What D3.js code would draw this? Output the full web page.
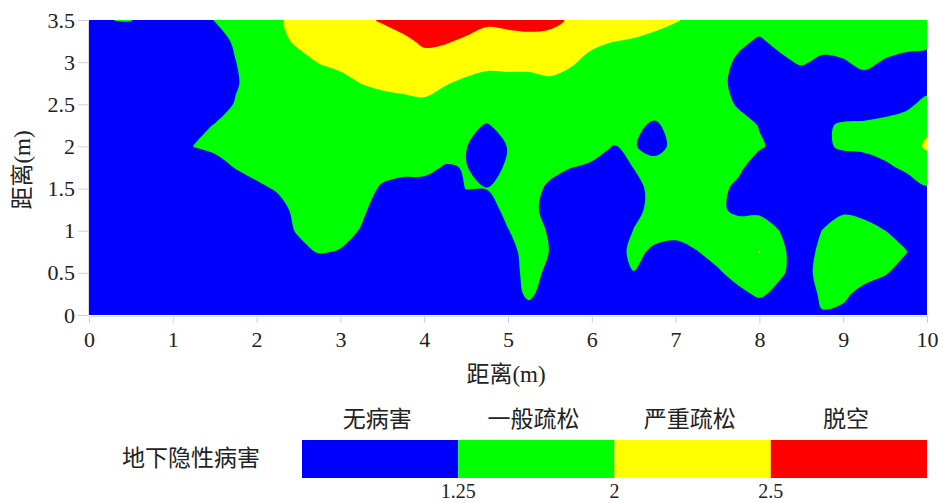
<!DOCTYPE html>
<html>
<head>
<meta charset="utf-8">
<script src="https://cdn.jsdelivr.net/npm/d3@7/dist/d3.min.js"></script>
<style>
  body { margin: 0; background: #ffffff; }
  svg { display: block; }
</style>
</head>
<body>
<svg id="chart" width="942" height="503"></svg>
<script>
// Survey grid: 0.25 m spacing along the line (0–10 m) and over the section height (3.5 m → 0 m)
const gridStep = 0.25;
const xPositions = d3.range(0, 10 + 1e-9, gridStep);   // 41 columns
const yPositions = d3.range(3.5, -1e-9, -gridStep);    // 15 rows, top row first

// Disease index measured at each grid node, one array per row (top to bottom)
const rowY350 = [0.6, 1.24, 1.29, 0.6, 0.68, 0.98, 1.27, 1.47, 1.69, 1.93, 2.16, 2.28, 2.36, 2.43, 2.53, 2.64, 2.83, 2.79, 2.69, 2.58, 2.61, 2.64, 2.59, 2.46, 2.32, 2.23, 2.18, 2.12, 2.03, 1.89, 1.77, 1.51, 1.47, 1.53, 1.61, 1.59, 1.60, 1.625, 1.62, 1.58, 1.56];
const rowY325 = [0.6, 0.6, 0.6, 0.6, 0.6, 0.62, 1.0, 1.34, 1.625, 1.875, 2.08, 2.16, 2.21, 2.31, 2.36, 2.43, 2.56, 2.54, 2.44, 2.34, 2.37, 2.39, 2.39, 2.25, 2.09, 2.01, 1.97, 1.90, 1.79, 1.72, 1.52, 1.36, 1.19, 1.39, 1.52, 1.44, 1.49, 1.56, 1.49, 1.42, 1.39];
const rowY300 = [0.6, 0.6, 0.6, 0.6, 0.6, 0.6, 0.86, 1.24, 1.54, 1.75, 1.86, 2.02, 2.10, 2.16, 2.23, 2.29, 2.37, 2.29, 2.19, 2.11, 2.125, 2.13, 2.16, 2.05, 1.88, 1.79, 1.74, 1.71, 1.64, 1.60, 1.46, 1.16, 0.875, 1.14, 1.31, 1.15, 1.2, 1.375, 1.2, 1.1, 1.04];
const rowY275 = [0.6, 0.6, 0.6, 0.6, 0.6, 0.6, 0.83, 1.2, 1.48, 1.63, 1.71, 1.78, 1.875, 2.01, 2.09, 2.12, 2.16, 2.03, 1.92, 1.845, 1.855, 1.855, 1.92, 1.84, 1.72, 1.67, 1.625, 1.61, 1.625, 1.58, 1.41, 1.085, 0.71, 0.725, 0.935, 0.755, 0.875, 1.04, 0.875, 0.8, 1.07];
const rowY250 = [0.6, 0.6, 0.6, 0.6, 0.6, 0.6, 0.98, 1.29, 1.5, 1.625, 1.625, 1.65, 1.70, 1.77, 1.83, 1.886, 1.92, 1.81, 1.67, 1.55, 1.6, 1.68, 1.71, 1.65, 1.625, 1.625, 1.51, 1.48, 1.53, 1.6, 1.45, 1.2, 0.95, 0.725, 0.6, 0.8, 0.86, 0.965, 1.04, 1.155, 1.37];
const rowY225 = [0.6, 0.6, 0.6, 0.6, 0.6, 1.07, 1.275, 1.46, 1.57, 1.625, 1.625, 1.625, 1.625, 1.625, 1.625, 1.625, 1.625, 1.54, 1.36, 1.22, 1.40, 1.53, 1.625, 1.625, 1.61, 1.48, 1.35, 1.18, 1.42, 1.56, 1.55, 1.42, 1.23, 1.025, 0.755, 1.15, 1.33, 1.33, 1.385, 1.45, 1.85];
const rowY200 = [0.6, 0.6, 0.6, 0.6, 0.9, 1.26, 1.35, 1.47, 1.56, 1.625, 1.625, 1.625, 1.625, 1.625, 1.57, 1.57, 1.57, 1.47, 1.27, 0.95, 1.27, 1.51, 1.53, 1.50, 1.46, 1.24, 1.28, 1.1, 1.36, 1.56, 1.625, 1.46, 1.30, 1.115, 0.8, 1.15, 1.33, 1.35, 1.44, 1.68, 2.1];
const rowY175 = [0.6, 0.6, 0.6, 0.6, 0.6, 0.845, 1.06, 1.27, 1.42, 1.51, 1.57, 1.625, 1.625, 1.53, 1.42, 1.40, 1.39, 1.21, 1.27, 1.05, 1.32, 1.52, 1.39, 1.26, 1.16, 1.0, 1.26, 1.43, 1.51, 1.605, 1.52, 1.34, 1.025, 0.8, 0.65, 0.71, 0.92, 1.01, 1.16, 1.335, 1.57];
const rowY150 = [0.6, 0.6, 0.6, 0.6, 0.6, 0.6, 0.755, 0.98, 1.145, 1.30, 1.49, 1.62, 1.57, 1.44, 1.19, 1.07, 1.055, 0.83, 1.27, 1.26, 1.41, 1.44, 1.16, 0.88, 0.785, 0.71, 1.085, 1.41, 1.58, 1.55, 1.385, 1.145, 0.83, 0.725, 0.6, 0.725, 0.815, 0.665, 0.8, 1.0, 1.2];
const rowY125 = [0.6, 0.6, 0.6, 0.6, 0.6, 0.6, 0.6, 0.6, 0.695, 1.07, 1.40, 1.57, 1.53, 1.35, 1.0, 0.695, 0.68, 0.6, 0.755, 1.085, 1.36, 1.40, 1.085, 0.71, 0.6, 0.725, 1.1, 1.42, 1.58, 1.53, 1.33, 1.16, 1.175, 1.0, 0.755, 1.025, 1.19, 1.1, 0.89, 0.6, 0.815];
const rowY100 = [0.6, 0.6, 0.6, 0.6, 0.6, 0.6, 0.6, 0.6, 0.6, 0.97, 1.32, 1.5, 1.46, 1.21, 0.83, 0.6, 0.6, 0.6, 0.6, 0.89, 1.235, 1.46, 1.2, 0.83, 0.6, 0.8, 1.27, 1.395, 1.40, 1.46, 1.47, 1.46, 1.44, 1.24, 0.95, 1.26, 1.44, 1.42, 1.255, 1.07, 0.8];
const rowY075 = [0.6, 0.6, 0.6, 0.6, 0.6, 0.6, 0.6, 0.6, 0.6, 0.83, 1.05, 1.305, 1.21, 1.1, 0.6, 0.6, 0.6, 0.6, 0.6, 0.725, 1.1, 1.42, 1.24, 0.875, 0.665, 1.04, 1.36, 1.175, 1.07, 1.23, 1.41, 1.57, 2.03, 1.34, 1.025, 1.36, 1.55, 1.56, 1.46, 1.27, 0.9];
const rowY050 = [0.6, 0.6, 0.6, 0.6, 0.6, 0.6, 0.6, 0.6, 0.6, 0.6, 0.6, 0.6, 0.6, 0.6, 0.6, 0.6, 0.6, 0.6, 0.6, 0.68, 1.055, 1.395, 1.16, 0.79, 0.68, 1.07, 1.24, 0.845, 0.695, 0.92, 1.19, 1.41, 1.63, 1.305, 1.07, 1.40, 1.5, 1.41, 1.29, 1.055, 0.8];
const rowY025 = [0.6, 0.6, 0.6, 0.6, 0.6, 0.6, 0.6, 0.6, 0.6, 0.6, 0.6, 0.6, 0.6, 0.6, 0.6, 0.6, 0.6, 0.6, 0.6, 0.6, 1.0, 1.35, 1.0, 0.6, 0.6, 0.6, 0.6, 0.6, 0.6, 0.6, 0.875, 1.145, 1.32, 1.13, 0.98, 1.33, 1.33, 1.12, 0.96, 0.6, 0.6];
const rowY000 = [0.6, 0.6, 0.6, 0.6, 0.6, 0.6, 0.6, 0.6, 0.6, 0.6, 0.6, 0.6, 0.6, 0.6, 0.6, 0.6, 0.6, 0.6, 0.6, 0.6, 0.75, 1.0, 0.75, 0.6, 0.6, 0.6, 0.6, 0.6, 0.6, 0.6, 0.6, 0.7, 0.95, 0.8, 0.7, 1.22, 1.15, 0.8, 0.6, 0.6, 0.6];
const severityRows = [rowY350, rowY325, rowY300, rowY275, rowY250, rowY225, rowY200,
                      rowY175, rowY150, rowY125, rowY100, rowY075, rowY050, rowY025, rowY000];

// Class breaks and legend
const thresholds = [1.25, 2, 2.5];
const classNames = ["无病害", "一般疏松", "严重疏松", "脱空"];
const classColors = ["#0000ff", "#00ff00", "#ffff00", "#ff0000"];
const legendTitle = "地下隐性病害";

// Axes
const xTickValues = [0, 1, 2, 3, 4, 5, 6, 7, 8, 9, 10];
const yTickValues = [0, 0.5, 1, 1.5, 2, 2.5, 3, 3.5];
const xAxisTitle = "距离(m)";
const yAxisTitle = "距离(m)";

const numFont = "'Liberation Serif', 'Times New Roman', serif";
const cjkFont = "'Liberation Serif', 'Noto Sans CJK SC', serif";

const svg = d3.select("#chart");
const plot = { left: 89, right: 927, top: 20, bottom: 315 };

const x = d3.scaleLinear().domain([0, 10]).range([plot.left, plot.right]);
const y = d3.scaleLinear().domain([0, 3.5]).range([plot.bottom, plot.top]);

svg.append("defs").append("clipPath").attr("id", "plot-clip")
  .append("rect")
  .attr("x", plot.left).attr("y", plot.top)
  .attr("width", plot.right - plot.left).attr("height", plot.bottom - plot.top);

// Filled contour bands: lowest class as the background, higher classes stacked on top
const nx = xPositions.length, ny = yPositions.length;
const values = severityRows.flat();
const bands = d3.contours().size([nx, ny]).thresholds(thresholds)(values);

const toPixel = ([c, r]) => [
  x(xPositions[0] + (c - 0.5) * gridStep),
  y(yPositions[0] - (r - 0.5) * gridStep)
];
const ringLine = d3.line().curve(d3.curveCatmullRomClosed.alpha(0.5));
const bandPath = mp => mp.coordinates
  .map(poly => poly.map(ring => ringLine(ring.slice(0, -1).map(toPixel))).join(""))
  .join("");

const gPlot = svg.append("g").attr("clip-path", "url(#plot-clip)");
gPlot.append("rect")
  .attr("x", plot.left).attr("y", plot.top)
  .attr("width", plot.right - plot.left).attr("height", plot.bottom - plot.top)
  .attr("fill", classColors[0]);
gPlot.selectAll("path.band")
  .data(bands)
  .join("path")
  .attr("class", "band")
  .attr("d", bandPath)
  .attr("fill", (d, i) => classColors[i + 1]);

// X axis
const gx = svg.append("g")
  .attr("transform", `translate(0,${plot.bottom + 1})`)
  .call(d3.axisBottom(x).tickValues(xTickValues).tickSize(7).tickSizeOuter(0).tickPadding(8));
gx.select(".domain").attr("stroke", "#dcdcdc");
gx.selectAll(".tick line").attr("stroke", "#d0d0d0");
gx.selectAll(".tick text")
  .attr("font-family", numFont).attr("font-size", 22).attr("fill", "#222");

// Y axis
const gy = svg.append("g")
  .attr("transform", `translate(${plot.left - 1},0)`)
  .call(d3.axisLeft(y).tickValues(yTickValues).tickSize(10).tickSizeOuter(0).tickPadding(3)
    .tickFormat(d => String(d)));
gy.select(".domain").attr("stroke", "#dcdcdc");
gy.selectAll(".tick line").attr("stroke", "#d0d0d0");
gy.selectAll(".tick text")
  .attr("font-family", numFont).attr("font-size", 22).attr("fill", "#222");

// Axis titles
svg.append("text")
  .attr("x", 506).attr("y", 374).attr("dy", "0.35em")
  .attr("text-anchor", "middle")
  .attr("font-family", cjkFont).attr("font-size", 23).attr("fill", "#222")
  .text(xAxisTitle);
svg.append("text")
  .attr("transform", "translate(22,170) rotate(-90)")
  .attr("dy", "0.35em")
  .attr("text-anchor", "middle")
  .attr("font-family", cjkFont).attr("font-size", 23).attr("fill", "#222")
  .text(yAxisTitle);

// Legend
const legend = { left: 302, right: 927, top: 440, height: 38 };
const legendBand = d3.scaleBand().domain(classNames).range([legend.left, legend.right]);
const gLegend = svg.append("g");
gLegend.selectAll("rect")
  .data(classNames)
  .join("rect")
  .attr("x", d => legendBand(d))
  .attr("y", legend.top)
  .attr("width", legendBand.bandwidth())
  .attr("height", legend.height)
  .attr("fill", (d, i) => classColors[i]);
gLegend.selectAll("text.cls")
  .data(classNames)
  .join("text")
  .attr("class", "cls")
  .attr("x", d => legendBand(d) + legendBand.bandwidth() / 2 - 3)
  .attr("y", 419).attr("dy", "0.35em")
  .attr("text-anchor", "middle")
  .attr("font-family", cjkFont).attr("font-size", 23).attr("fill", "#222")
  .text(d => d);
gLegend.selectAll("text.brk")
  .data(thresholds)
  .join("text")
  .attr("class", "brk")
  .attr("x", (d, i) => legendBand(classNames[i + 1]))
  .attr("y", 498)
  .attr("text-anchor", "middle")
  .attr("font-family", numFont).attr("font-size", 20).attr("fill", "#222")
  .text(d => String(d));
gLegend.append("text")
  .attr("x", 122).attr("y", 458).attr("dy", "0.35em")
  .attr("font-family", cjkFont).attr("font-size", 23).attr("fill", "#222")
  .text(legendTitle);
</script>
</body>
</html>
